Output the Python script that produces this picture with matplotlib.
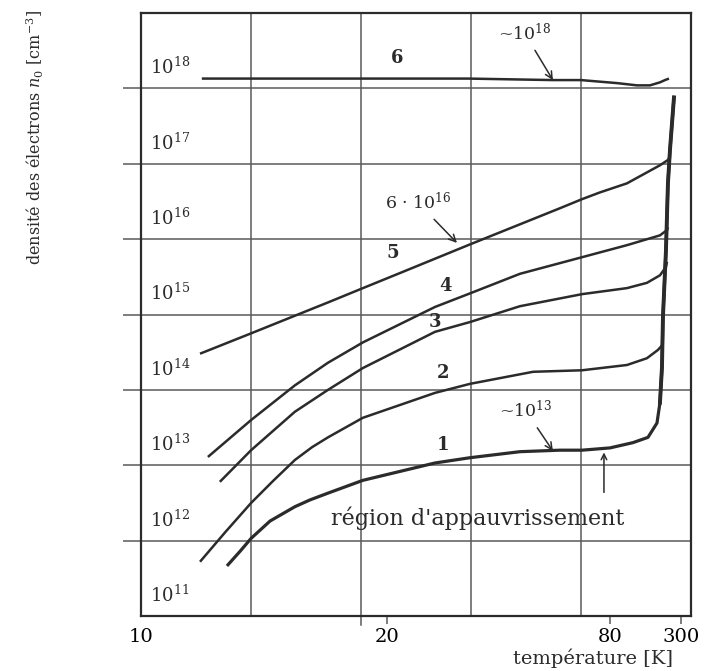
import matplotlib
matplotlib.use("Agg")
import matplotlib.pyplot as plt
import matplotlib.transforms as mtransforms
import numpy as np
from matplotlib.ticker import FixedLocator, NullFormatter, NullLocator

plt.rcParams["font.family"] = "DejaVu Serif"
plt.rcParams["mathtext.fontset"] = "dejavuserif"

# temperature [K] and log10 of electron density n0 [cm^-3]
t1 = [12.26, 12.65, 13.02, 13.71, 14.72, 15.40, 16.29, 18.31, 24.28, 28.61, 37.83, 50.04, 60.25, 80.06, 107.5,
      136.4, 161.4, 171.6, 179.1, 183.0, 195.9, 205.4, 215.9, 240.0]
n1 = [11.68, 11.86, 12.03, 12.26, 12.45, 12.54, 12.63, 12.80, 13.03, 13.10, 13.18, 13.20, 13.20, 13.23, 13.30,
      13.37, 13.56, 13.83, 14.30, 14.97, 15.85, 16.74, 17.18, 17.88]

t2 = [11.44, 12.17, 13.02, 13.82, 14.72, 15.50, 16.29, 18.31, 24.28, 28.61, 41.2, 60.25, 98.87, 134.0, 164.6,
      179.1]
n2 = [11.72, 12.11, 12.50, 12.79, 13.07, 13.24, 13.37, 13.63, 13.96, 14.08, 14.24, 14.26, 14.33, 14.42, 14.53,
      14.59]

t3 = [12.01, 13.02, 14.72, 16.29, 18.31, 24.28, 28.61, 37.83, 60.25, 98.87, 134.0, 171.6, 195.9, 200.6]
n3 = [12.78, 13.20, 13.71, 14.00, 14.29, 14.77, 14.90, 15.11, 15.27, 15.35, 15.42, 15.52, 15.63, 15.70]

t4 = [11.66, 13.02, 14.72, 16.29, 18.31, 24.28, 28.61, 37.83, 60.25, 98.87, 171.6, 200.6, 205.4]
n4 = [13.11, 13.60, 14.06, 14.36, 14.63, 15.10, 15.28, 15.54, 15.76, 15.92, 16.05, 16.12, 16.16]

t5 = [11.44, 13.02, 16.29, 18.31, 21.0, 28.61, 50.04, 60.25, 71.8, 98.87, 171.6, 205.4, 215.9]
n5 = [14.48, 14.75, 15.16, 15.35, 15.55, 15.93, 16.41, 16.53, 16.62, 16.74, 16.98, 17.05, 17.09]

t6 = [11.49, 14.94, 28.32, 47.43, 59.7, 87.0, 114, 141.3, 171.6, 191.4, 210.6]
n6 = [18.13, 18.13, 18.13, 18.11, 18.11, 18.07, 18.04, 18.04, 18.08, 18.11, 18.13]

curve_labels = ["1", "2", "3", "4", "5", "6"]
x_ticks = [10, 20, 80, 300]
decades = list(range(11, 19))

ink = "#2b2b2b"
grid_col = "#5a5a5a"


def fwd(t):
    t = np.clip(np.asarray(t, dtype=float), 1e-6, None)
    return -np.power(t, -0.8)


def inv(v):
    v = np.clip(-np.asarray(v, dtype=float), 1e-9, None)
    return np.power(v, -1.25)


fig = plt.figure(figsize=(7.13, 6.71), dpi=100)
ax = fig.add_axes([141 / 713, 1 - 616 / 671, 550 / 713, 603 / 671])
ax.set_xscale("function", functions=(fwd, inv))
ax.set_yscale("log")
ax.set_xlim(10, 431)
ax.set_ylim(1e11, 1e19)

# horizontal grid at decades, ticks poke out to the left
ax.yaxis.set_major_locator(FixedLocator([10.0 ** k for k in range(12, 19)]))
ax.yaxis.set_major_formatter(NullFormatter())
ax.yaxis.set_minor_locator(NullLocator())
ax.tick_params(axis="y", direction="out", length=13, width=1.1, color=grid_col)
ax.yaxis.grid(True, color=grid_col, lw=1.1)

ax.xaxis.set_major_locator(FixedLocator(x_ticks))
ax.set_xticklabels([str(t) for t in x_ticks])
ax.xaxis.set_minor_locator(NullLocator())
ax.tick_params(axis="x", direction="out", length=6, width=1.1, color=grid_col, pad=3, labelsize=14)
ax.xaxis.get_major_ticks()[0].tick1line.set_visible(False)

# vertical grid, evenly spaced across the frame
for f in (0.2, 0.4, 0.6, 0.8):
    lo = -0.015 if f == 0.4 else 0.0
    ax.plot([f, f], [lo, 1], transform=ax.transAxes, color=grid_col, lw=1.1, clip_on=False, zorder=1)

for s in ax.spines.values():
    s.set_color(ink)
    s.set_linewidth(1.6)

blend = mtransforms.blended_transform_factory(ax.transAxes, ax.transData)
for k in decades:
    ax.text(0.016, 10.0 ** (k + 0.19), rf"$10^{{{k}}}$", transform=blend, fontsize=13, ha="left",
            va="baseline", color=ink)

# curves
for t, n in [(t2, n2), (t3, n3), (t4, n4), (t5, n5), (t6, n6)]:
    ax.plot(t, 10.0 ** np.array(n), color=ink, lw=1.8, solid_capstyle="butt", zorder=3)
ax.plot(t1, 10.0 ** np.array(n1), color=ink, lw=2.3, zorder=4)
ax.plot(t1[17:], 10.0 ** np.array(n1[17:]), color=ink, lw=2.8, zorder=4)

# curve numbers
num_pos = [(0.549, 0.284), (0.549, 0.403), (0.535, 0.488), (0.553, 0.547), (0.458, 0.602), (0.466, 0.925)]
for lab, (px, py) in zip(curve_labels, num_pos):
    ax.text(px, py, lab, transform=ax.transAxes, fontsize=13, fontweight="bold", ha="center", va="center",
            color=ink)

arrow = dict(arrowstyle="->", lw=1.1, color=ink, shrinkA=3, shrinkB=0)
ax.annotate(r"~$10^{18}$", xy=(47.4, 10 ** 18.11), xytext=(39.0, 10 ** 18.73), ha="center", va="center",
            fontsize=12.5, color=ink, arrowprops=arrow)
ax.annotate(r"6 · $10^{16}$", xy=(26.85, 10 ** 15.95), xytext=(22.6, 10 ** 16.48), ha="center",
            va="center", fontsize=12.5, color=ink, arrowprops=arrow)
ax.annotate(r"~$10^{13}$", xy=(47.4, 10 ** 13.19), xytext=(39.3, 10 ** 13.72), ha="center", va="center",
            fontsize=12.5, color=ink, arrowprops=arrow)
ax.annotate("", xy=(74.9, 10 ** 13.17), xytext=(74.9, 10 ** 12.64),
            arrowprops=dict(arrowstyle="->", lw=1.1, color=ink, shrinkA=0, shrinkB=0))
ax.text(0.613, 0.1625, "région d'appauvrissement", transform=ax.transAxes, fontsize=16, ha="center",
        va="center", color=ink)

fig.text(0.049, 0.795, r"densité des électrons $n_0$ [cm$^{-3}$]", rotation=90, ha="center", va="center",
         fontsize=11.5, color=ink)
fig.text(0.831, 0.004, "température [K]", ha="center", va="bottom", fontsize=14, color=ink)

fig.savefig("out.png", dpi=100)
plt.close(fig)
